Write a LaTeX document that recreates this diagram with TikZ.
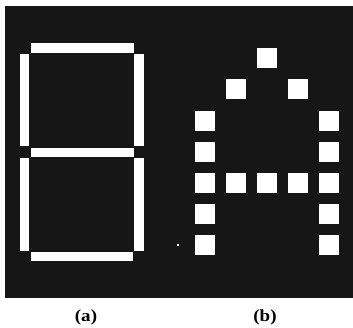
\documentclass[tikz,border=0pt]{standalone}
\usepackage{fontspec}
\setmainfont{Liberation Serif}
\definecolor{panel}{RGB}{22,22,22}
\begin{document}
\begin{tikzpicture}[x=1pt,y=-1pt,
  seg/.style={fill=white,draw=none},
  pix/.style={fill=white,draw=none,minimum size=20pt,inner sep=0pt,anchor=north west},
  lbl/.style={font=\fontsize{17}{17}\selectfont\bfseries,inner sep=0pt,xscale=1.12}]
\useasboundingbox (0,0) rectangle (353,327);
\fill[panel] (5,6) rectangle (353,298);
% (a) seven-segment display
\fill[seg] (31,43) rectangle (134,53);
\fill[seg] (20,54) rectangle (29,146);
\fill[seg] (134,54) rectangle (144,146);
\fill[seg] (31,148) rectangle (134,157);
\fill[seg] (20,158) rectangle (29,251);
\fill[seg] (134,158) rectangle (144,251);
\fill[seg] (31,252) rectangle (133,261);
% (b) dot-matrix letter A
\foreach \c/\r [count=\i] in {3/1, 2/2,4/2, 1/3,5/3, 1/4,5/4, 1/5,2/5,3/5,4/5,5/5, 1/6,5/6, 1/7,5/7}{
  \node[pix] (p\i) at ({195+31*(\c-1)},{48+31.2*(\r-1)}) {};
}
\fill[white] (177,244) rectangle (179,246);
\node[lbl] (la) at (86,317.5) {(a)};
\node[lbl] (lb) at (265,317.5) {(b)};
\end{tikzpicture}
\end{document}
